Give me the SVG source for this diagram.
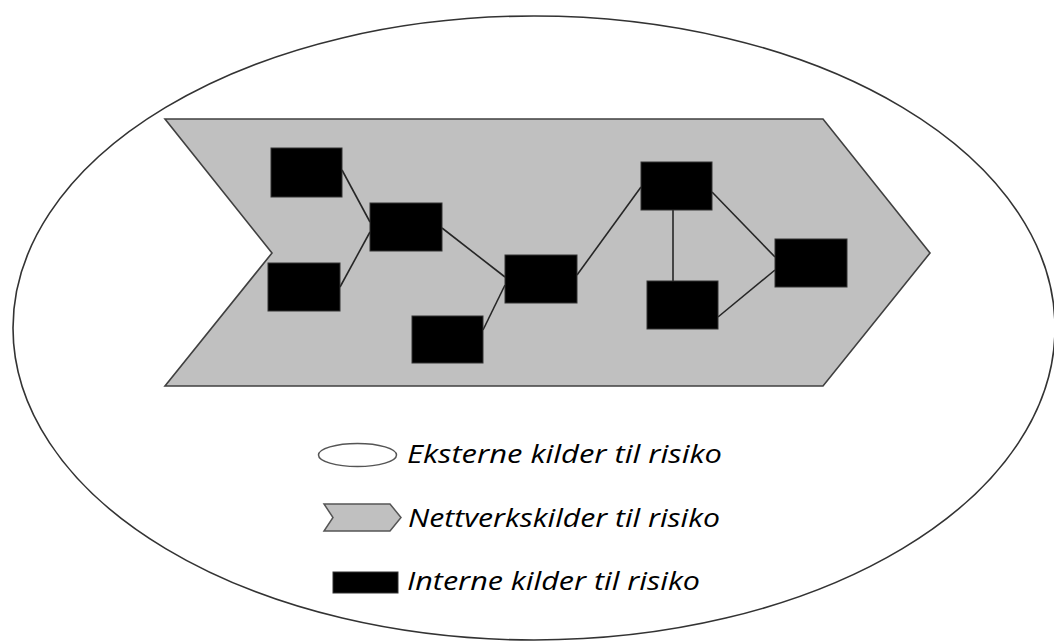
<svg xmlns="http://www.w3.org/2000/svg" width="1054" height="642" viewBox="0 0 1054 642">
<style>
.box{fill:#000;stroke:#333;stroke-width:1}
.lnk{stroke:#262626;stroke-width:1.6;fill:none}
.lbl{font-family:"Open Sans","Liberation Sans",sans-serif;font-style:italic;font-size:26px;fill:#000}
</style>
<rect width="1054" height="642" fill="#fff"/>
<g id="external">
<ellipse cx="534" cy="328" rx="521" ry="312" fill="#fff" stroke="#333" stroke-width="1.6"/>
</g>
<g id="network">
<polygon points="165,119 823,119 930,253 823,386 165,386 272,253" fill="#c0c0c0" stroke="#404040" stroke-width="1.6"/>
</g>
<g id="connectors">
<line class="lnk" x1="342" y1="170" x2="370" y2="222"/>
<line class="lnk" x1="340" y1="287" x2="370" y2="232"/>
<line class="lnk" x1="442" y1="228" x2="505" y2="277"/>
<line class="lnk" x1="483" y1="330" x2="505" y2="285"/>
<line class="lnk" x1="577" y1="275" x2="641" y2="187"/>
<line class="lnk" x1="673" y1="210" x2="673" y2="281"/>
<line class="lnk" x1="712" y1="192" x2="775" y2="257"/>
<line class="lnk" x1="718" y1="317" x2="775" y2="270"/>
</g>
<g id="nodeA"><rect class="box" x="271" y="148" width="71" height="49"/></g>
<g id="nodeB"><rect class="box" x="268" y="263" width="72" height="48"/></g>
<g id="nodeC"><rect class="box" x="370" y="203" width="72" height="48"/></g>
<g id="nodeD"><rect class="box" x="412" y="316" width="71" height="47"/></g>
<g id="nodeE"><rect class="box" x="505" y="255" width="72" height="48"/></g>
<g id="nodeF"><rect class="box" x="641" y="162" width="71" height="48"/></g>
<g id="nodeG"><rect class="box" x="647" y="281" width="71" height="48"/></g>
<g id="nodeH"><rect class="box" x="775" y="239" width="72" height="48"/></g>
<g id="legend">
<ellipse cx="357.5" cy="455" rx="39" ry="11.5" fill="#fff" stroke="#555" stroke-width="1.5"/>
<text class="lbl" x="407" y="463" textLength="315" lengthAdjust="spacingAndGlyphs">Eksterne kilder til risiko</text>
<polygon points="324,504 390,504 401,517.5 390,531 324,531 333,517.5" fill="#c0c0c0" stroke="#555" stroke-width="1.5"/>
<text class="lbl" x="408" y="527" textLength="312" lengthAdjust="spacingAndGlyphs">Nettverkskilder til risiko</text>
<rect x="333" y="572" width="65" height="21" fill="#000" stroke="#333" stroke-width="1"/>
<text class="lbl" x="407" y="590" textLength="293" lengthAdjust="spacingAndGlyphs">Interne kilder til risiko</text>
</g>
</svg>
